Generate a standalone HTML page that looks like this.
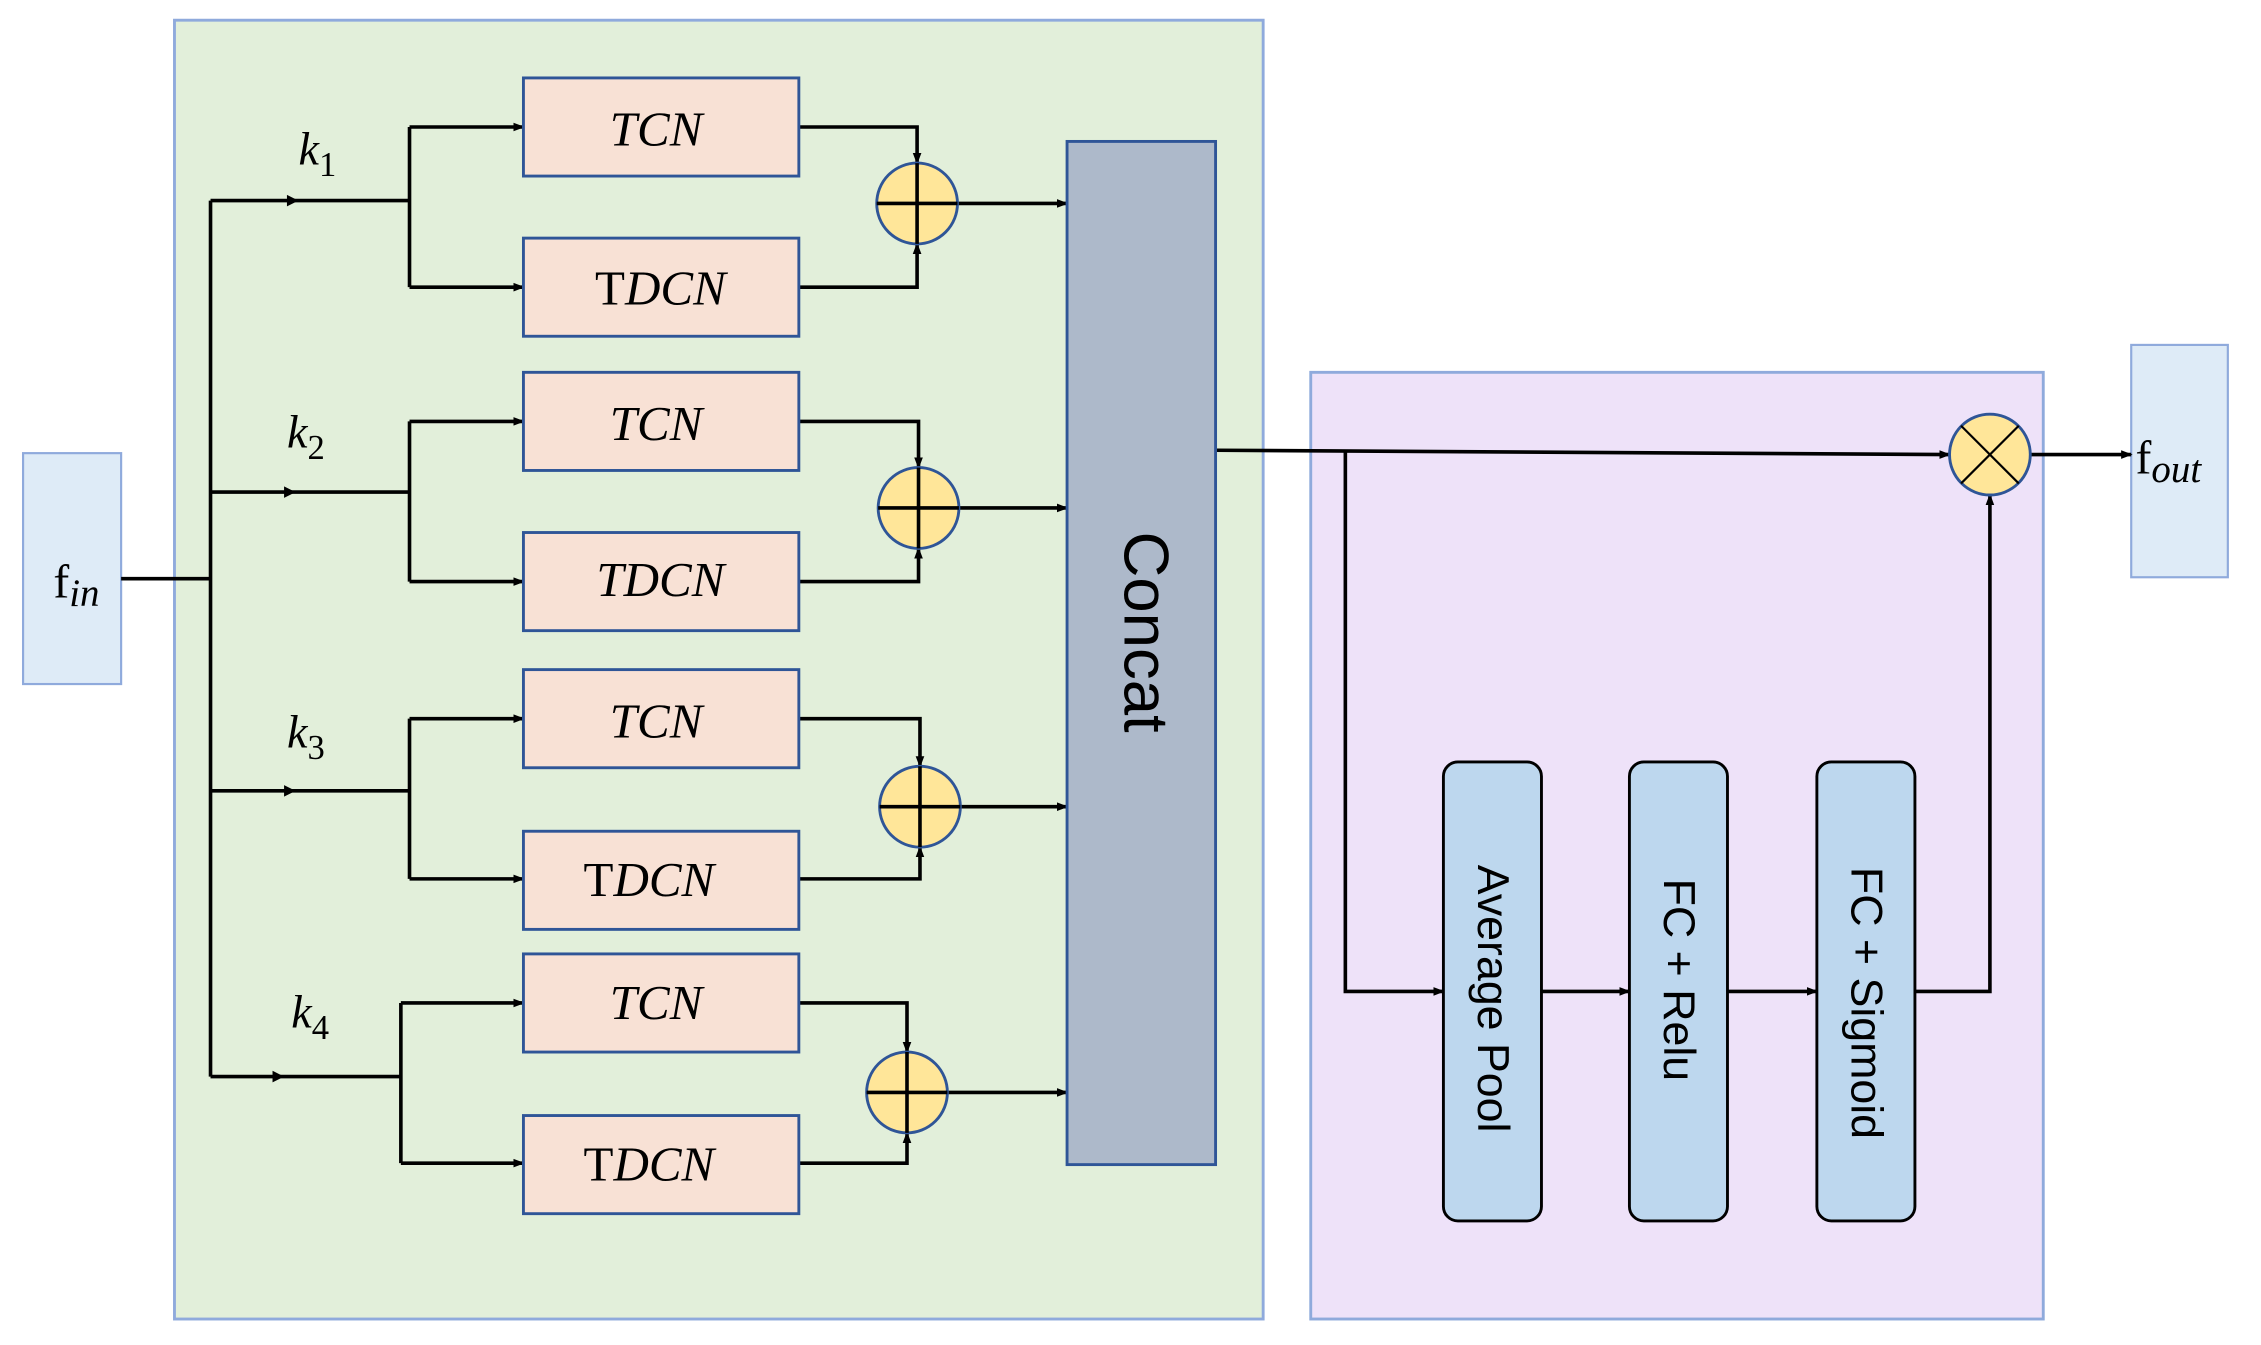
<!DOCTYPE html>
<html><head><meta charset="utf-8"><style>html,body{margin:0;padding:0;background:#fff}svg{display:block}</style></head>
<body>
<svg width="2261" height="1345" viewBox="0 0 1568 932" preserveAspectRatio="none" xmlns="http://www.w3.org/2000/svg">
<defs>
<marker id="a" markerWidth="8" markerHeight="8" refX="7" refY="4" orient="auto" markerUnits="userSpaceOnUse"><path d="M0,1 L8,4 L0,7 z" fill="#000"/></marker>
</defs>
<rect x="121" y="14" width="755" height="900" fill="#e2efda" stroke="#8faadc" stroke-width="2"/>
<rect x="909" y="258" width="508" height="656" fill="#eee2f9" stroke="#8faadc" stroke-width="2"/>
<rect x="16" y="314" width="68" height="160" fill="#deebf7" stroke="#8faadc" stroke-width="1.5"/>
<rect x="1478" y="239" width="67" height="161" fill="#deebf7" stroke="#8faadc" stroke-width="1.5"/>
<text x="37" y="414" font-family="Liberation Serif, serif" font-size="33">f<tspan font-style="italic" font-size="27" dy="6">in</tspan></text>
<text x="1481" y="328" font-family="Liberation Serif, serif" font-size="33">f<tspan font-style="italic" font-size="27" dy="6">out</tspan></text>

<g stroke="#000" stroke-width="2.5" fill="none">
<path d="M84,401 H146 M146,139 V746"/>
<path d="M146,139 H284 M146,341 H284 M146,548 H284 M146,746 H278"/>
<path d="M284,88 V199 M284,292 V403 M284,498 V609 M278,695 V806"/>
</g>
<g stroke="#000" stroke-width="2.5" fill="none" marker-end="url(#a)">
<path d="M284,88 H363"/><path d="M284,199 H363"/><path d="M284,292 H363"/><path d="M284,403 H363"/>
<path d="M284,498 H363"/><path d="M284,609 H363"/><path d="M278,695 H363"/><path d="M278,806 H363"/>
<path d="M554,88 H636 V113"/><path d="M554,199 H636 V169"/><path d="M554,292 H637 V324"/><path d="M554,403 H637 V380"/>
<path d="M554,498 H638 V531"/><path d="M554,609 H638 V587"/><path d="M554,695 H629 V729"/><path d="M554,806 H629 V785"/>
<path d="M664,141 H740"/><path d="M665,352 H740"/><path d="M666,559 H740"/><path d="M657,757 H740"/>
<path d="M843,312 L1352,315"/>
<path d="M933,312 V687 H1001"/><path d="M1069,687 H1130"/><path d="M1198,687 H1260"/><path d="M1328,687 H1380 V343"/><path d="M1408,315 H1478"/>
</g>
<g fill="#000">
<path d="M199,135 L207,139 L199,143z M197,337 L205,341 L197,345z M197,544 L205,548 L197,552z M189,742 L197,746 L189,750z"/>
</g>

<g fill="#f8e1d5" stroke="#2f5597" stroke-width="2">
<rect x="363" y="54" width="191" height="68"/><rect x="363" y="165" width="191" height="68"/>
<rect x="363" y="258" width="191" height="68"/><rect x="363" y="369" width="191" height="68"/>
<rect x="363" y="464" width="191" height="68"/><rect x="363" y="576" width="191" height="68"/>
<rect x="363" y="661" width="191" height="68"/><rect x="363" y="773" width="191" height="68"/>
</g>
<g font-family="Liberation Serif, serif" font-style="italic" font-size="34" text-anchor="middle">
<text x="455" y="101">TCN</text><text x="458" y="211"><tspan font-style="normal">T</tspan>DCN</text>
<text x="455" y="305">TCN</text><text x="458" y="413">TDCN</text>
<text x="455" y="511">TCN</text><text x="450" y="621"><tspan font-style="normal">T</tspan>DCN</text>
<text x="455" y="706">TCN</text><text x="450" y="818"><tspan font-style="normal">T</tspan>DCN</text>
</g>
<g font-family="Liberation Serif, serif" font-style="italic" font-size="32">
<text x="207" y="114">k<tspan font-style="normal" font-size="24" dy="8">1</tspan></text>
<text x="199" y="310">k<tspan font-style="normal" font-size="24" dy="8">2</tspan></text>
<text x="199" y="518">k<tspan font-style="normal" font-size="24" dy="8">3</tspan></text>
<text x="202" y="712">k<tspan font-style="normal" font-size="24" dy="8">4</tspan></text>
</g>

<g fill="#ffe699" stroke="#2f5597" stroke-width="2">
<circle cx="636" cy="141" r="28"/><circle cx="637" cy="352" r="28"/><circle cx="638" cy="559" r="28"/><circle cx="629" cy="757" r="28"/><circle cx="1380" cy="315" r="28"/>
</g>
<g stroke="#000" stroke-width="2.5">
<path d="M608,141 H664 M636,113 V169 M609,352 H665 M637,324 V380 M610,559 H666 M638,531 V587 M601,757 H657 M629,729 V785"/>
<path d="M1360,295 L1400,335 M1400,295 L1360,335" stroke-width="1.5"/>
</g>

<rect x="740" y="98" width="103" height="709" fill="#adb9ca" stroke="#2f5597" stroke-width="2"/>
<text transform="translate(780,438) rotate(90)" font-family="Liberation Sans, sans-serif" font-size="44" text-anchor="middle">Concat</text>

<g fill="#bdd7ee" stroke="#000" stroke-width="2">
<rect x="1001" y="528" width="68" height="318" rx="10"/>
<rect x="1130" y="528" width="68" height="318" rx="10"/>
<rect x="1260" y="528" width="68" height="318" rx="10"/>
</g>
<g font-family="Liberation Sans, sans-serif" font-size="31" text-anchor="middle">
<text transform="translate(1025,692) rotate(90)">Average  Pool</text>
<text transform="translate(1154,679) rotate(90)">FC + Relu</text>
<text transform="translate(1284,695) rotate(90)">FC + Sigmoid</text>
</g>
</svg>
</body></html>
